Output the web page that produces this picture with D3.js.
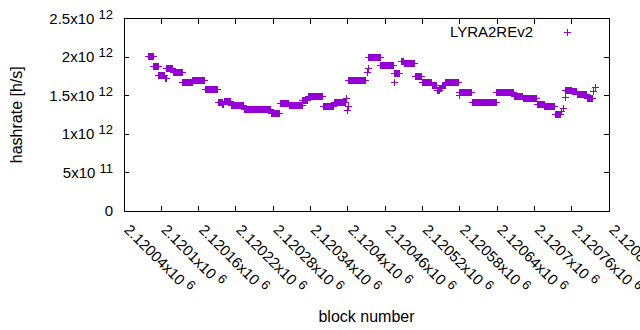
<!DOCTYPE html>
<html>
<head>
<meta charset="utf-8">
<script src="https://cdn.jsdelivr.net/npm/d3@7"></script>
<style>
  body { margin: 0; background: #fff; }
  svg { display: block; font-family: "Liberation Sans", Arial, sans-serif; }
</style>
</head>
<body>
<div id="chart"></div>
<script>
// hashrate estimate per block, read off the picture as runs of equal value
// (value in units of 1e12 h/s)
const runStart = [2120079, 2120087, 2120095, 2120106, 2120108, 2120118, 2120134, 2120150,
  2120170, 2120191, 2120198, 2120201, 2120212, 2120233, 2120276, 2120291, 2120305, 2120327,
  2120336, 2120360, 2120377, 2120397, 2120399, 2120400, 2120401, 2120430, 2120432, 2120433,
  2120452, 2120474, 2120475, 2120485, 2120490, 2120508, 2120519, 2120535, 2120543, 2120547,
  2120551, 2120557, 2120578, 2120579, 2120600, 2120614, 2120639, 2120667, 2120681, 2120704,
  2120716, 2120733, 2120743, 2120746, 2120749, 2120750, 2120760, 2120768, 2120784, 2120794,
  2120797];
const runEnd = [2120086, 2120094, 2120105, 2120107, 2120117, 2120133, 2120149, 2120169,
  2120190, 2120197, 2120200, 2120211, 2120232, 2120275, 2120290, 2120304, 2120326, 2120335,
  2120359, 2120376, 2120396, 2120397, 2120399, 2120400, 2120427, 2120430, 2120432, 2120451,
  2120473, 2120474, 2120483, 2120489, 2120507, 2120518, 2120534, 2120542, 2120546, 2120550,
  2120556, 2120577, 2120598, 2120579, 2120613, 2120638, 2120666, 2120680, 2120703, 2120715,
  2120732, 2120741, 2120743, 2120746, 2120749, 2120759, 2120767, 2120783, 2120792, 2120794,
  2120797];
const runValue = [2.010, 1.878, 1.764, 1.725, 1.855, 1.800, 1.675, 1.699,
  1.583, 1.422, 1.389, 1.429, 1.380, 1.324, 1.272, 1.401, 1.380, 1.444,
  1.496, 1.364, 1.422, 1.466, 1.315, 1.358, 1.707, 1.810, 1.855, 1.997,
  1.894, 1.673, 1.790, 1.945, 1.920, 1.750, 1.675, 1.634, 1.565, 1.600,
  1.640, 1.673, 1.544, 1.509, 1.422, 1.410, 1.544, 1.500, 1.466, 1.389,
  1.358, 1.259, 1.300, 1.340, 1.479, 1.574, 1.552, 1.513, 1.470, 1.560,
  1.615];

const seriesName = "LYRA2REv2";
const xTicks = [2120040, 2120100, 2120160, 2120220, 2120280, 2120340, 2120400,
  2120460, 2120520, 2120580, 2120640, 2120700, 2120760, 2120820];
const xTickLabels = ["2.12004", "2.1201", "2.12016", "2.12022", "2.12028", "2.12034", "2.1204",
  "2.12046", "2.12052", "2.12058", "2.12064", "2.1207", "2.12076", "2.12082"];
const yTicks = [0, 0.5e12, 1e12, 1.5e12, 2e12, 2.5e12];
const yTickMantissa = ["0", "5", "1", "1.5", "2", "2.5"];
const yTickExp = ["", "11", "12", "12", "12", "12"];

// one point per block inside each run
const points = [];
runStart.forEach((s, i) => {
  for (let b = s; b <= runEnd[i]; b++) points.push({ block: b, rate: runValue[i] * 1e12 });
});

const width = 640, height = 330;
const margin = { top: 18.5, right: 31, bottom: 119, left: 124 };
const purple = "#9400d3";

const svg = d3.select("#chart").append("svg")
  .attr("width", width)
  .attr("height", height);

const x = d3.scaleLinear()
  .domain([2120040, 2120820])
  .range([margin.left, width - margin.right]);

const y = d3.scaleLinear()
  .domain([0, 2.5e12])
  .range([height - margin.bottom, margin.top]);

const x0 = margin.left, x1 = width - margin.right;
const y0 = height - margin.bottom, y1 = margin.top;
const tickLen = 5;

// ticks, drawn inward on all four sides like gnuplot
const axisLines = svg.append("g").attr("stroke", "#000").attr("stroke-width", 1)
  .attr("shape-rendering", "crispEdges");
xTicks.forEach(t => {
  axisLines.append("line").attr("x1", x(t)).attr("x2", x(t)).attr("y1", y0).attr("y2", y0 - tickLen);
  axisLines.append("line").attr("x1", x(t)).attr("x2", x(t)).attr("y1", y1).attr("y2", y1 + tickLen);
});
yTicks.forEach(t => {
  axisLines.append("line").attr("x1", x0).attr("x2", x0 + tickLen).attr("y1", y(t)).attr("y2", y(t));
  axisLines.append("line").attr("x1", x1).attr("x2", x1 - tickLen).attr("y1", y(t)).attr("y2", y(t));
});
axisLines.append("rect")
  .attr("x", x0).attr("y", y1)
  .attr("width", x1 - x0).attr("height", y0 - y1)
  .attr("fill", "none");

// y tick labels
const yLab = svg.append("g").attr("font-size", 15).attr("fill", "#000");
yTicks.forEach((t, i) => {
  const txt = yLab.append("text")
    .attr("x", 113).attr("y", y(t)).attr("dy", "0.35em")
    .attr("text-anchor", "end");
  if (yTickExp[i]) {
    txt.append("tspan").text(yTickMantissa[i] + "x10 ");
    txt.append("tspan").attr("dy", "-0.4em").attr("font-size", 13).text(yTickExp[i]);
  } else {
    txt.text(yTickMantissa[i]);
  }
});

// x tick labels, rotated
const xLab = svg.append("g").attr("font-size", 15).attr("fill", "#000");
xTicks.forEach((t, i) => {
  const txt = xLab.append("text")
    .attr("transform", "translate(" + (x(t) + 3) + "," + (y0 + 16) + ") rotate(45)")
    .attr("dy", "0.35em");
  txt.append("tspan").text(xTickLabels[i] + "x10 ");
  txt.append("tspan").attr("dy", "-0.4em").attr("font-size", 13).text("6");
});

// axis titles
svg.append("text")
  .attr("transform", "translate(22," + ((y0 + y1) / 2) + ") rotate(-90)")
  .attr("text-anchor", "middle")
  .attr("font-size", 16)
  .text("hashrate [h/s]");

svg.append("text")
  .attr("x", (x0 + x1) / 2).attr("y", 322)
  .attr("text-anchor", "middle")
  .attr("font-size", 16)
  .text("block number");

// plus markers
const plus = "M-3.5,0H3.5M0,-3.5V3.5";
svg.append("g")
  .attr("stroke", purple).attr("stroke-width", 1).attr("fill", "none")
  .selectAll("path")
  .data(points)
  .join("path")
  .attr("transform", d => "translate(" + (Math.round(x(d.block)) + 0.5) + "," + (Math.round(y(d.rate)) + 0.5) + ")")
  .attr("d", plus);

// legend
svg.append("text")
  .attr("x", 533).attr("y", 32).attr("dy", "0.35em")
  .attr("text-anchor", "end")
  .attr("font-size", 15)
  .text(seriesName);
svg.append("path")
  .attr("transform", "translate(567.5,32.5)")
  .attr("d", plus)
  .attr("stroke", purple).attr("fill", "none");
</script>
</body>
</html>
